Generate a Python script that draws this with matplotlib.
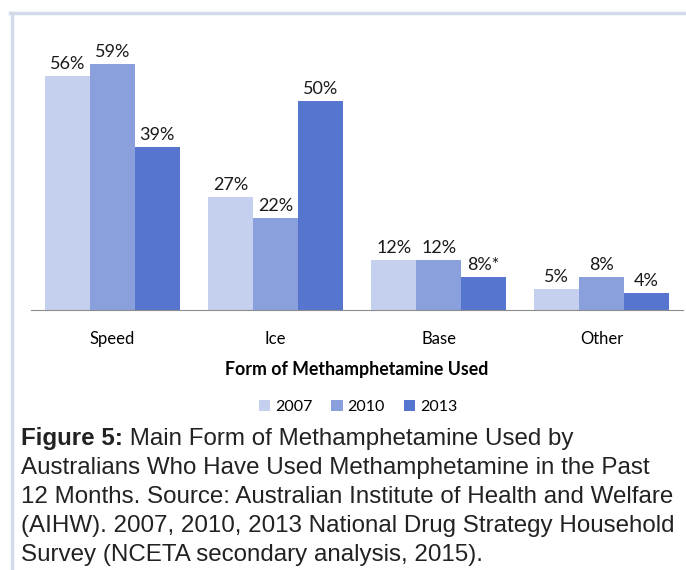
import numpy as np
import matplotlib.pyplot as plt
from matplotlib.patches import Patch
from matplotlib.lines import Line2D

# Datos
categorias = ['Speed', 'Ice', 'Base', 'Other']
anios = ['2007', '2010', '2013']
v2007 = [56, 27, 12, 5]
v2010 = [59, 22, 12, 8]
v2013 = [39, 50, 8, 4]
etiquetas2013 = ['39%', '50%', '8%*', '4%']

colores = ['#C5D0EE', '#8AA0DC', '#5675CF']

pie = [
    'Australians Who Have Used Methamphetamine in the Past',
    '12 Months. Source: Australian Institute of Health and Welfare',
    '(AIHW). 2007, 2010, 2013 National Drug Strategy Household',
    'Survey (NCETA secondary analysis, 2015).',
]

plt.rcParams['font.family'] = ['Lato', 'DejaVu Sans']

fig = plt.figure(figsize=(6.86, 5.70), dpi=100)
ax = fig.add_axes([0.045, 0.456, 0.951, 0.476])

x = np.arange(len(categorias))
w = 0.275
series = [v2007, v2010, v2013]
for i, vals in enumerate(series):
    barras = ax.bar(x + (i - 1) * w, vals, w, color=colores[i])
    if i == 2:
        labs = etiquetas2013
    else:
        labs = [f'{v}%' for v in vals]
    ax.bar_label(barras, labels=labs, padding=3, fontsize=13, color='#1a1a1a')

ax.set_xlim(-0.5, 3.5)
ax.set_ylim(0, 65)
ax.set_yticks([])
for s in ['top', 'right', 'left']:
    ax.spines[s].set_visible(False)
ax.spines['bottom'].set_color('#8c8c8c')
ax.set_xticks(x)
ax.set_xticklabels(categorias, fontsize=12)
ax.tick_params(axis='x', length=0, pad=15)
ax.set_xlabel('Form of Methamphetamine Used', fontsize=12.8, fontweight='bold', labelpad=10)

manejadores = [Patch(facecolor=c) for c in colores]
fig.legend(manejadores, anios, loc='center', bbox_to_anchor=(0.522, 0.286), ncol=3,
           frameon=False, fontsize=11.5, handlelength=0.7, handleheight=0.7,
           handletextpad=0.3, columnspacing=1.2)

# Marco
fig.add_artist(Line2D([10 / 686, 1], [1 - 13 / 570, 1 - 13 / 570], color='#D3DAE8', lw=2.5))
fig.add_artist(Line2D([11.5 / 686, 11.5 / 686], [0, 1 - 13 / 570], color='#D3DAE8', lw=2.5))

# Pie de figura
cap = dict(fontsize=17.4, family='Liberation Sans', color='#222222', va='baseline')
t0 = fig.text(21 / 686, 1 - 445 / 570, 'Figure 5:', fontweight='bold', **cap)
ax.annotate(' Main Form of Methamphetamine Used by', xy=(1, 0), xycoords=t0,
            ha='left', va='bottom', fontsize=17.4, family='Liberation Sans', color='#222222')
for k, linea in enumerate(pie):
    fig.text(21 / 686, 1 - (474 + 29 * k) / 570, linea, **cap)

plt.savefig('out.png', dpi=100)
